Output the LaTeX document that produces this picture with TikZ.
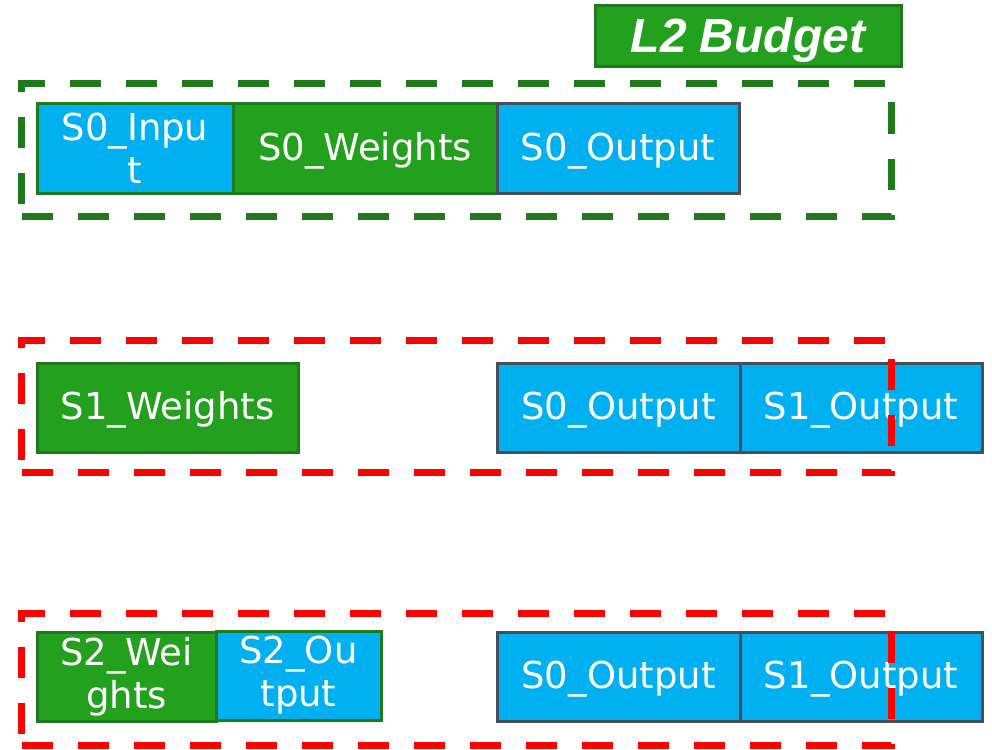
\documentclass[tikz,border=0pt]{standalone}
\usepackage{fontspec}
\setmainfont{DejaVu Sans}
\newfontfamily\titlefont{Liberation Sans}
\usetikzlibrary{positioning}
\definecolor{bufblue}{HTML}{00B0F0}
\definecolor{bufgreen}{HTML}{24A01F}
\definecolor{edgegreen}{HTML}{1E7B1C}
\definecolor{edgegrey}{HTML}{454F59}
\definecolor{stagered}{HTML}{FF0000}
\newcommand{\rowheight}{89pt}
\newcommand{\stagewidth}{869.5pt}
\newcommand{\stageheight}{132pt}
\tikzset{
  buffer/.style={% common buffer node
    rectangle,
    minimum height=\rowheight,
    inner sep=0pt,
    outer sep=0pt,
    line width=3pt,
    text=white,
    align=center,
    font=\fontsize{37}{43}\selectfont
  },
  oneline/.style={% single line label, centred on the box
    text height=30pt,
    text depth=6pt
  },
  weights/.style={% weights buffer
    buffer,
    fill=bufgreen,
    draw=edgegreen
  },
  output/.style={% output buffer
    buffer,
    oneline,
    fill=bufblue,
    draw=edgegrey
  },
  input/.style={% input buffer
    buffer,
    fill=bufblue,
    draw=edgegreen
  },
  stage/.style={% dashed stage frame
    rectangle,
    minimum width=\stagewidth,
    minimum height=\stageheight,
    inner sep=0pt,
    outer sep=0pt,
    line width=7pt,
    dash pattern=on 31pt off 25pt,
    anchor=north west
  },
  title/.style={% budget label
    rectangle,
    fill=bufgreen,
    draw=edgegreen,
    line width=3pt,
    outer sep=0pt,
    minimum width=306pt,
    minimum height=61pt,
    text height=36pt,
    text depth=4pt,
    text=white,
    font=\titlefont\bfseries\itshape\fontsize{48}{48}\selectfont
  }
}

\begin{document}
\begin{tikzpicture}[x=1pt, y=-1pt]
\useasboundingbox (0,0) rectangle (992,749);

%%% Title
\node[title, anchor=north west] (budget) at (595,6) {L2 Budget};

%%% Stage 0
\node[input, minimum width=196pt, anchor=north west] (s0in) at (37,104) {S0\_Inpu\\t};
\node[weights, oneline, minimum width=264pt, right=0pt of s0in] (s0w) {S0\_Weights};
\node[output, minimum width=242pt, right=0pt of s0w] (s0out) {S0\_Output};

%%% Stage 1
\node[weights, oneline, minimum width=261pt, anchor=north west] (s1w) at (37,363) {S1\_Weights};
\node[output, minimum width=243pt, anchor=north west] (s1keep) at (497,363) {S0\_Output};
\node[output, minimum width=242pt, right=0pt of s1keep] (s1out) {S1\_Output};

%%% Stage 2
\node[weights, minimum width=179pt, anchor=north west] (s2w) at (37,632) {S2\_Wei\\ghts};
\node[input, minimum width=165pt, right=0pt of s2w, yshift=1pt] (s2out) {S2\_Ou\\tput};
\node[output, minimum width=243pt, anchor=north west] (s2keep) at (497,632) {S0\_Output};
\node[output, minimum width=242pt, right=0pt of s2keep] (s2prev) {S1\_Output};

%%% Stage frames
\node[stage, draw=edgegreen] (stage0) at (21.5,84) {};
\node[stage, draw=stagered] (stage1) at (21.5,340) {};
\node[stage, draw=stagered] (stage2) at (21.5,613.5) {};

\end{tikzpicture}
\end{document}
